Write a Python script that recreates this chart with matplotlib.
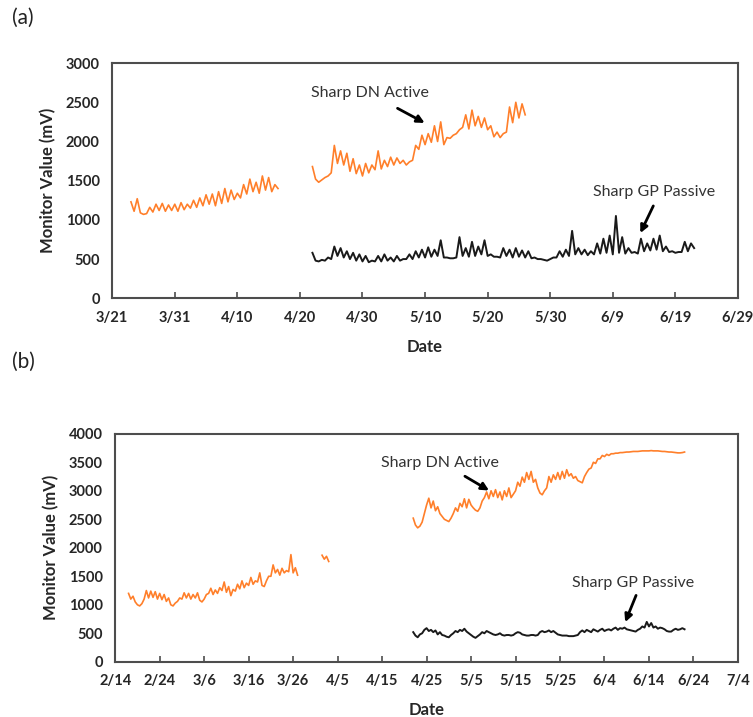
import numpy as np
import matplotlib
matplotlib.use("Agg")
import matplotlib.pyplot as plt
import matplotlib.dates as mdates

plt.rcParams['font.family'] = ['Lato', 'DejaVu Sans']

ORANGE = "#ff7f2a"
BLACK = "#1a1a1a"
HALF_DAY = np.timedelta64(12, "h")

# ---- panel (a): readings every 12 h ----
a_dn_start1 = "2013-03-24"
a_dn_1 = [1230, 1110, 1270, 1090, 1070, 1080, 1160, 1100, 1200, 1120, 1210, 1110,
          1190, 1120, 1200, 1110, 1220, 1130, 1200, 1150, 1250, 1160, 1280, 1180,
          1320, 1200, 1330, 1180, 1360, 1210, 1400, 1230, 1380, 1260, 1340, 1280,
          1450, 1330, 1520, 1360, 1480, 1340, 1560, 1380, 1540, 1360, 1450, 1400]

a_dn_start2 = "2013-04-22"
a_dn_2 = [1680, 1520, 1480, 1510, 1540, 1560, 1600, 1950, 1720, 1880, 1700, 1850,
          1620, 1780, 1590, 1700, 1560, 1720, 1600, 1700, 1640, 1880, 1650, 1760,
          1680, 1800, 1700, 1790, 1720, 1760, 1700, 1740, 1760, 1950, 1900, 2080,
          1960, 2100, 1990, 2200, 2000, 2250, 1960, 2050, 2040, 2080, 2100, 2150,
          2180, 2340, 2160, 2400, 2200, 2320, 2180, 2300, 2150, 2200, 2060, 2120,
          2050, 2100, 2120, 2440, 2240, 2500, 2300, 2480, 2340]

a_gp_start = "2013-04-22"
a_gp = [580, 480, 470, 490, 480, 520, 500, 660, 540, 640, 520, 600,
        500, 580, 480, 560, 470, 540, 460, 480, 470, 540, 470, 560,
        480, 520, 470, 540, 480, 500, 500, 560, 500, 600, 520, 620,
        520, 650, 530, 620, 540, 740, 520, 520, 510, 510, 520, 780,
        540, 640, 530, 720, 540, 660, 560, 740, 540, 560, 530, 530,
        520, 640, 540, 620, 520, 640, 530, 610, 520, 600, 510, 520,
        500, 500, 490, 480, 500, 520, 520, 600, 530, 620, 540, 860,
        560, 640, 560, 620, 550, 600, 560, 700, 570, 760, 580, 800,
        560, 1050, 580, 780, 570, 640, 580, 590, 570, 760, 600, 700,
        610, 760, 620, 800, 600, 660, 590, 600, 580, 590, 590, 720,
        600, 700, 640]

# ---- panel (b) ----
b_dn_start1 = "2013-02-17"
b_dn_1 = [1200, 1100, 1150, 1050, 1000, 980, 1020, 1100, 1250, 1120, 1240, 1130,
          1230, 1100, 1200, 1090, 1180, 1060, 1120, 1000, 980, 1030, 1060, 1120,
          1100, 1210, 1120, 1200, 1100, 1180, 1120, 1210, 1080, 1050, 1100, 1180,
          1200, 1290, 1180, 1260, 1200, 1300, 1250, 1400, 1220, 1320, 1160, 1270,
          1240, 1360, 1280, 1420, 1300, 1380, 1340, 1480, 1360, 1420, 1400, 1560,
          1340, 1320, 1420, 1500, 1500, 1700, 1560, 1620, 1520, 1640, 1560, 1600,
          1580, 1880, 1560, 1650, 1520]

b_dn_start2 = "2013-04-01T12"
b_dn_2 = [1870, 1800, 1850, 1760]

b_dn_start3 = "2013-04-22"
b_dn_3 = [2520, 2400, 2350, 2380, 2450, 2600, 2750, 2870, 2700, 2820, 2650, 2720,
          2600, 2550, 2500, 2480, 2460, 2520, 2600, 2700, 2640, 2780, 2720, 2860,
          2700, 2850, 2750, 2700, 2660, 2640, 2700, 2820, 2880, 2980, 2860, 3000,
          2900, 3020, 2880, 2980, 2840, 3000, 2900, 3050, 2880, 2940, 3000, 3150,
          3080, 3240, 3150, 3320, 3200, 3340, 3150, 3200, 3050, 2960, 2930, 3000,
          3050, 3250, 3150, 3280, 3200, 3320, 3200, 3340, 3220, 3370, 3260, 3300,
          3220, 3250, 3180, 3160, 3140, 3250, 3320, 3380, 3400, 3500, 3480, 3560,
          3560, 3620, 3600, 3640, 3620, 3650, 3650, 3660, 3660, 3670, 3670, 3675,
          3680, 3680, 3685, 3690, 3690, 3690, 3695, 3700, 3700, 3700, 3700, 3705,
          3700, 3700, 3700, 3695, 3690, 3690, 3685, 3680, 3680, 3675, 3670, 3665,
          3665, 3670, 3680]

b_gp_start = "2013-04-22"
b_gp = [520, 460, 430, 480, 500, 560, 590, 540, 560, 520, 550, 480,
        520, 470, 460, 440, 430, 470, 500, 540, 520, 560, 540, 580,
        530, 500, 470, 440, 420, 450, 480, 520, 500, 540, 520, 500,
        480, 470, 480, 500, 470, 460, 470, 470, 460, 470, 500, 520,
        510, 480, 470, 460, 460, 470, 470, 460, 470, 520, 540, 520,
        530, 550, 520, 540, 510, 480, 470, 460, 460, 460, 450, 450,
        450, 460, 470, 520, 550, 520, 560, 540, 520, 570, 550, 530,
        560, 580, 540, 560, 570, 550, 580, 600, 560, 590, 580, 600,
        570, 560, 550, 540, 530, 560, 580, 620, 600, 700, 620, 680,
        600, 620, 580, 600, 590, 570, 540, 530, 530, 560, 580, 560,
        570, 590, 570]


def times(start, values):
    return np.datetime64(start) + np.arange(len(values)) * HALF_DAY


def md(x, pos=None):
    d = mdates.num2date(x)
    return f"{d.month}/{d.day}"


def style(ax, first, last, ymax, ystep):
    ax.set_xlim(mdates.datestr2num(first), mdates.datestr2num(last))
    ax.set_xticks(np.arange(mdates.datestr2num(first), mdates.datestr2num(last) + 1, 10))
    ax.xaxis.set_major_formatter(plt.FuncFormatter(md))
    ax.set_ylim(0, ymax)
    ax.set_yticks(np.arange(0, ymax + 1, ystep))
    for s in ax.spines.values():
        s.set_color("#4d4d4d")
        s.set_linewidth(1.5)
    ax.tick_params(axis="x", direction="in", length=4, width=1.2, color="#4d4d4d",
                   pad=9, labelsize=10.5, labelcolor="#262626")
    ax.tick_params(axis="y", length=0, pad=9, labelsize=10.5, labelcolor="#262626")
    for lab in ax.get_xticklabels() + ax.get_yticklabels():
        lab.set_fontweight("bold")
    ax.set_xlabel("Date", fontsize=12, fontweight="bold", color="#262626", labelpad=10)
    ax.set_ylabel("Monitor Value (mV)", fontsize=12, fontweight="bold", color="#262626",
                  labelpad=7)


def note(ax, text, txy, start, tip):
    ax.text(mdates.datestr2num(txy[0]), txy[1], text, ha="center", va="center",
            fontsize=11.5, color="#333333")
    ax.annotate("", xy=(mdates.datestr2num(tip[0]), tip[1]),
                xytext=(mdates.datestr2num(start[0]), start[1]),
                arrowprops=dict(arrowstyle="-|>", color="black", lw=2, mutation_scale=11))


fig = plt.figure(figsize=(7.53, 7.17), dpi=100)
ax1 = fig.add_axes([0.149, 0.584, 0.831, 0.328])
ax2 = fig.add_axes([0.153, 0.077, 0.827, 0.318])

ax1.plot(times(a_dn_start1, a_dn_1), a_dn_1, color=ORANGE, lw=1.2)
ax1.plot(times(a_dn_start2, a_dn_2), a_dn_2, color=ORANGE, lw=1.2)
ax1.plot(times(a_gp_start, a_gp), a_gp, color=BLACK, lw=1.4)
style(ax1, "2013-03-21", "2013-06-29", 3000, 500)
note(ax1, "Sharp DN Active", ("2013-05-01T05", 2620),
     ("2013-05-05T05", 2440), ("2013-05-10T08", 2220))
note(ax1, "Sharp GP Passive", ("2013-06-15T14", 1355),
     ("2013-06-15T16", 1210), ("2013-06-13T05", 800))

ax2.plot(times(b_dn_start1, b_dn_1), b_dn_1, color=ORANGE, lw=1.2)
ax2.plot(times(b_dn_start2, b_dn_2), b_dn_2, color=ORANGE, lw=1.2)
ax2.plot(times(b_dn_start3, b_dn_3), b_dn_3, color=ORANGE, lw=1.2)
ax2.plot(times(b_gp_start, b_gp), b_gp, color=BLACK, lw=1.4)
style(ax2, "2013-02-14", "2013-07-04", 4000, 500)
note(ax2, "Sharp DN Active", ("2013-04-28", 3490),
     ("2013-05-03T02", 3280), ("2013-05-09T14", 2980))
note(ax2, "Sharp GP Passive", ("2013-06-10T10", 1385),
     ("2013-06-11T08", 1210), ("2013-06-08T10", 650))

fig.text(0.016, 0.975, "(a)", fontsize=15, va="center", color="#222222")
fig.text(0.016, 0.495, "(b)", fontsize=15, va="center", color="#222222")

fig.savefig("out.png", dpi=100)
